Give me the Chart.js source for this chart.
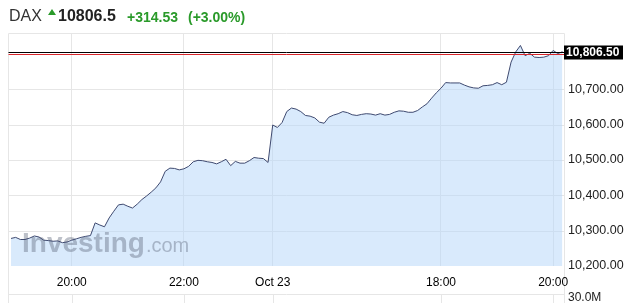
<!DOCTYPE html>
<html><head><meta charset="utf-8">
<script src="https://cdn.jsdelivr.net/npm/chart.js@4"></script>
<style>
html,body{margin:0;padding:0;background:#fff;width:642px;height:303px;overflow:hidden;font-family:"Liberation Sans",Arial,sans-serif;}
#wrap{position:relative;width:642px;height:303px;}
canvas{position:absolute;left:0;top:0;}
.h{position:absolute;white-space:nowrap;}
</style></head><body>
<div id="wrap">
<canvas id="c" width="642" height="303"></canvas>
<div class="h" id="hName" style="left:9px;top:8px;font-size:16px;line-height:16px;color:#333;"></div>
<div id="arrow" style="position:absolute;left:48px;top:9px;width:0;height:0;border-left:4px solid transparent;border-right:4px solid transparent;border-bottom:6px solid #2a9a2a;"></div>
<div class="h" id="hPrice" style="left:58px;top:8px;font-size:16px;line-height:16px;font-weight:bold;color:#222;"></div>
<div class="h" id="hChg" style="left:127px;top:10px;font-size:14px;line-height:14px;font-weight:bold;color:#2a9a2a;"></div>
<div class="h" id="hPct" style="left:188px;top:10px;font-size:14px;line-height:14px;font-weight:bold;color:#2a9a2a;"></div>
</div>
<script>
// ---- data ----
const instrument = 'DAX';
const lastPrice = 10806.5;
const change = 314.53;
const changePct = 3.00;
const refLine = 10800;           // red horizontal line level
const volumeLabel = '30.0M';

// trading sessions shown (5-minute bars)
const sessions = [
  {date: 'Oct 22', start: '18:55', end: '23:30'},
  {date: 'Oct 23', start: '15:00', end: '20:10'}
];
const stepMinutes = 5;

const prices = [
  10278,10281,10275,10275,10279,10285,10282,10273,10272,10270,
  10271,10266,10268,10273,10277,10281,10284,10286,10322,10316,
  10311,10336,10355,10373,10375,10369,10364,10375,10388,10398,
  10409,10421,10438,10468,10477,10476,10472,10475,10482,10495,
  10499,10498,10495,10493,10489,10495,10502,10484,10496,10491,
  10491,10498,10507,10505,10504,10493,
  10599,10592,10606,10637,10647,10644,10637,10626,10624,10619,
  10607,10604,10621,10627,10631,10637,10634,10628,10626,10629,
  10631,10630,10627,10631,10627,10629,10635,10639,10638,10635,
  10635,10640,10650,10659,10675,10690,10703,10719,10718,10718,
  10718,10712,10707,10704,10703,10710,10711,10713,10719,10713,
  10720,10777,10806,10824,10795,10802,10791,10790,10791,10795,
  10810,10801,10806.5
];

const tickTimes  = ['Oct 22 20:00','Oct 22 22:00','Oct 23 15:00','Oct 23 18:00','Oct 23 20:00'];
const tickLabels = ['20:00','22:00','Oct 23','18:00','20:00'];

const yMin = 10200, yMax = 10856.5;
const yTicks = [10200,10300,10400,10500,10600,10700,10800];

// ---- build categories ----
function toMin(s){const p=s.split(':');return (+p[0])*60+(+p[1]);}
function pad(n){return (n<10?'0':'')+n;}
const categories = [];
sessions.forEach(s=>{
  for(let m=toMin(s.start); m<=toMin(s.end); m+=stepMinutes){
    categories.push(s.date+' '+pad(Math.floor(m/60))+':'+pad(m%60));
  }
});
const tickIdx = tickTimes.map(t=>categories.indexOf(t));

function fmt(v){
  const neg=v<0; v=Math.abs(v);
  let s=v.toFixed(2); let [a,b]=s.split('.');
  a=a.replace(/\B(?=(\d{3})+(?!\d))/g, ',');
  return (neg?'-':'')+a+'.'+b;
}

document.getElementById('hName').textContent = instrument;
document.getElementById('hPrice').textContent = String(lastPrice);
document.getElementById('hChg').textContent = '+' + change.toFixed(2);
document.getElementById('hPct').textContent = '(+' + changePct.toFixed(2) + '%)';

const FONT = '"Liberation Sans", Arial, sans-serif';
const GRID = '#e6e6e6';

const framePlugin = {
  id: 'frame',
  beforeDraw(chart){
    const c = chart.ctx, ys = chart.scales.y, xs = chart.scales.x;
    const L = 8.5, R = 564.5, T = 33.5, H = chart.height;
    c.save();
    c.strokeStyle = GRID; c.lineWidth = 1;
    c.beginPath();
    c.moveTo(L, T); c.lineTo(L, H);
    c.moveTo(R, T); c.lineTo(R, H);
    c.moveTo(L, T); c.lineTo(R, T);
    c.moveTo(L, 294.5); c.lineTo(R, 294.5);
    yTicks.forEach(v=>{
      if (v === yMin) return;
      const y = Math.round(ys.getPixelForValue(v)) + 0.5;
      c.moveTo(L, y); c.lineTo(R, y);
    });
    tickIdx.forEach(i=>{
      const x = Math.round(xs.getPixelForValue(i)) + 0.5;
      c.moveTo(x, 294.5); c.lineTo(x, H);
    });
    c.stroke();
    c.restore();
  },
  beforeDatasetDraw(chart){
    const c = chart.ctx;
    c.save();
    c.fillStyle = 'rgba(90,100,120,0.4)';
    c.textBaseline = 'alphabetic';
    c.font = 'bold 28px ' + FONT;
    c.fillText('Investing', 22, 252);
    const w = c.measureText('Investing').width;
    c.font = '20px ' + FONT;
    c.fillText('.com', 22 + w + 1, 252);
    c.restore();
  },
  afterDatasetsDraw(chart){
    const c = chart.ctx, ys = chart.scales.y;
    const L = 8.5, R = 564.5;
    c.save();
    c.lineWidth = 1;
    const yr = Math.round(ys.getPixelForValue(refLine)) + 0.5;
    c.strokeStyle = '#d9262b';
    c.beginPath(); c.moveTo(L, yr); c.lineTo(R, yr); c.stroke();
    const yb = Math.round(ys.getPixelForValue(lastPrice)) + 0.5;
    c.strokeStyle = '#000';
    c.beginPath(); c.moveTo(L, yb); c.lineTo(R, yb); c.stroke();
    // price box
    c.fillStyle = '#000';
    c.fillRect(564, yb - 7, 59, 14);
    c.fillStyle = '#fff';
    c.font = 'bold 12px ' + FONT;
    c.textBaseline = 'middle';
    c.textAlign = 'left';
    c.fillText(fmt(lastPrice), 566, yb + 0.5);
    // volume label
    c.fillStyle = '#222';
    c.font = '12px ' + FONT;
    c.fillText(volumeLabel, 568, 298);
    c.restore();
  }
};

new Chart(document.getElementById('c'), {
  type: 'line',
  data: {
    labels: categories,
    datasets: [{
      data: prices,
      borderColor: '#3f4a70',
      borderWidth: 1,
      backgroundColor: 'rgba(179,213,249,0.5)',
      fill: 'start',
      pointRadius: 0,
      tension: 0
    }]
  },
  options: {
    responsive: false,
    animation: false,
    devicePixelRatio: 1,
    layout: {padding: {left: 11, top: 34, right: 0, bottom: 0}},
    plugins: {legend: {display: false}, tooltip: {enabled: false}},
    scales: {
      x: {
        type: 'category',
        offset: false,
        afterBuildTicks(s){ s.ticks = tickIdx.map(i=>({value: i})); },
        afterFit(s){ s.height = 37; },
        grid: {color: GRID, drawTicks: false},
        border: {display: false},
        ticks: {
          autoSkip: false, maxRotation: 0, minRotation: 0, padding: 9,
          color: '#000', font: {family: FONT, size: 12},
          callback(v, i){ return tickLabels[i]; }
        }
      },
      y: {
        position: 'right',
        min: yMin, max: yMax,
        afterBuildTicks(s){ s.ticks = yTicks.map(v=>({value: v})); },
        afterFit(s){ s.width = 79.5; },
        grid: {display: false, drawTicks: false},
        border: {display: false},
        ticks: {
          padding: 5.5, color: '#222', font: {family: FONT, size: 12.5},
          callback(v){ return Math.abs(v - lastPrice) < 15 ? '' : fmt(v); }
        }
      }
    }
  },
  plugins: [framePlugin]
});
</script>
</body></html>
